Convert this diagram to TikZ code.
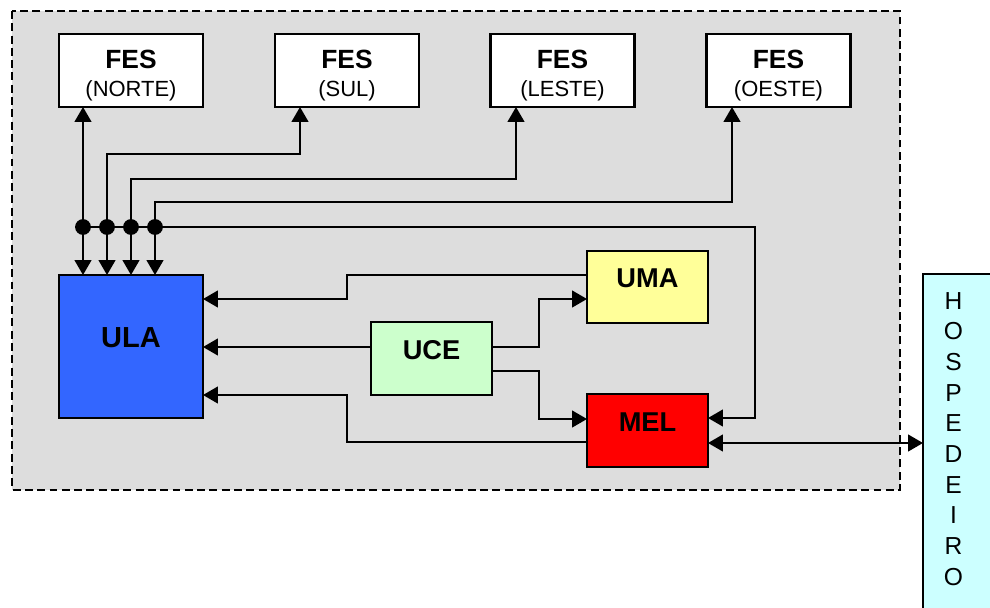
\documentclass[tikz,border=0pt]{standalone}
\usepackage{fontspec}
\setmainfont{Liberation Sans}
\usetikzlibrary{arrows.meta}

\definecolor{panelgray}{HTML}{DDDDDD}
\definecolor{ulablue}{HTML}{3366FF}
\definecolor{umayellow}{HTML}{FFFF99}
\definecolor{ucegreen}{HTML}{CCFFCC}
\definecolor{melred}{HTML}{FF0000}
\definecolor{hostcyan}{HTML}{CCFFFF}

\tikzset{
  tip/.tip={Triangle[length=8.5pt,width=9.5pt]},
  unit/.style={draw=black, line width=1.2pt, inner sep=0pt, outer sep=0pt},
  feswide/.style={unit, fill=white, minimum width=2.88cm, minimum height=1.46cm},
  smallunit/.style={unit, minimum width=2.42cm, minimum height=1.46cm},
  conn/.style={draw=black, line width=1.2pt},
  festitle/.style={anchor=base, inner sep=0pt, font=\fontsize{15}{18}\selectfont\bfseries},
  fessub/.style={anchor=base, inner sep=0pt, font=\fontsize{12.5}{15}\selectfont},
  unitname/.style={anchor=base, inner sep=0pt, font=\fontsize{15.5}{18}\selectfont\bfseries},
  hostletter/.style={anchor=base, inner sep=0pt, font=\fontsize{14}{17}\selectfont},
  junction/.style={fill=black, circle, inner sep=0pt, minimum size=9pt}
}

\begin{document}
\begin{tikzpicture}[x=0.02cm, y=-0.02cm]
  \useasboundingbox (0,0) rectangle (990,608);
  \clip (0,0) rectangle (990,608);

  % system panel
  \draw[fill=panelgray, line width=0.9pt, dash pattern=on 4.5pt off 2.5pt] (12,11) rectangle (900,490);

  % front-end units
  \node[feswide] (fesN) at (131,70.5) {};
  \node[feswide] (fesS) at (347,70.5) {};
  \node[feswide] (fesL) at (562.5,70.5) {};
  \node[feswide] (fesO) at (778.5,70.5) {};
  \node[festitle] (fesNt) at (131,69) {FES};
  \node[fessub]   (fesNs) at (131,96) {(NORTE)};
  \node[festitle] (fesSt) at (347,69) {FES};
  \node[fessub]   (fesSs) at (347,96) {(SUL)};
  \node[festitle] (fesLt) at (562.5,69) {FES};
  \node[fessub]   (fesLs) at (562.5,96) {(LESTE)};
  \node[festitle] (fesOt) at (778.5,69) {FES};
  \node[fessub]   (fesOs) at (778.5,96) {(OESTE)};

  % processing units
  \node[unit, fill=ulablue, minimum width=2.88cm, minimum height=2.86cm] (ula) at (131,346.5) {};
  \node[unitname, font=\fontsize{16.5}{19}\selectfont\bfseries] (ulat) at (131,347) {ULA};
  \node[smallunit, fill=umayellow, minimum height=1.44cm] (uma) at (647.5,287) {};
  \node[unitname] (umat) at (647.5,287) {UMA};
  \node[smallunit, fill=ucegreen] (uce) at (431.5,358.5) {};
  \node[unitname] (ucet) at (431.5,359) {UCE};
  \node[smallunit, fill=melred] (mel) at (647.5,430.5) {};
  \node[unitname] (melt) at (647.5,431) {MEL};

  % host
  \node[unit, fill=hostcyan, minimum width=1.74cm, minimum height=7.32cm] (hosp) at (966.5,457) {};
  \foreach \ch [count=\i] in {H,O,S,P,E,D,E,I,R,O}
    \node[hostletter] (hosp\i) at (953.5,{309+(\i-1)*30.7}) {\ch};

  % bus junctions
  \coordinate (j1) at (83,227);
  \coordinate (j2) at (107,227);
  \coordinate (j3) at (131,227);
  \coordinate (j4) at (155,227);

  % front-end links
  \draw[conn, tip-tip] (fesN.south -| j1) -- (ula.north -| j1);
  \draw[conn, -tip] (j2) -- (107,154) -- (300,154) -- (fesS.south -| 300,0);
  \draw[conn, -tip] (j3) -- (131,179) -- (516,179) -- (fesL.south -| 516,0);
  \draw[conn, -tip] (j4) -- (155,202) -- (732,202) -- (fesO.south -| 732,0);
  \draw[conn, -tip] (j2) -- (ula.north -| j2);
  \draw[conn, -tip] (j3) -- (ula.north -| j3);
  \draw[conn, -tip] (j4) -- (ula.north -| j4);
  \draw[conn, -tip] (j1) -- (755,227) -- (755,418) -- (mel.east |- 0,418);

  % internal links
  \draw[conn, -tip] (uma.west |- 0,275) -- (347,275) -- (347,299) -- (ula.east |- 0,299);
  \draw[conn, -tip] (uce.west |- 0,347) -- (ula.east |- 0,347);
  \draw[conn, -tip] (uce.east |- 0,347) -- (539,347) -- (539,299) -- (uma.west |- 0,299);
  \draw[conn, -tip] (uce.east |- 0,371) -- (539,371) -- (539,419) -- (mel.west |- 0,419);
  \draw[conn, -tip] (mel.west |- 0,442) -- (347,442) -- (347,395) -- (ula.east |- 0,395);
  \draw[conn, tip-tip] (mel.east |- 0,443) -- (hosp.west |- 0,443);

  % junction dots
  \foreach \j in {j1,j2,j3,j4}
    \node[junction] at (\j) {};
\end{tikzpicture}
\end{document}
